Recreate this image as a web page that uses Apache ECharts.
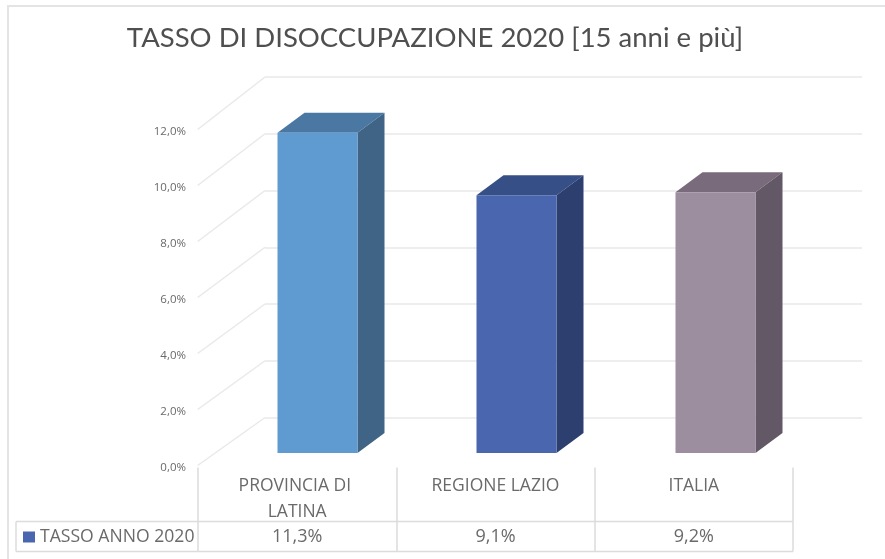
<!DOCTYPE html>
<html><head><meta charset="utf-8">
<style>html,body{margin:0;padding:0;background:#fff}#c{width:885px;height:559px}</style>
<script src="https://cdn.jsdelivr.net/npm/echarts@6/dist/echarts.min.js"></script>
</head><body><div id="c"></div>
<script>
var categories = ['PROVINCIA DI LATINA', 'REGIONE LAZIO', 'ITALIA'];
var values = [11.3, 9.1, 9.2];
var seriesName = 'TASSO ANNO 2020';
var titleText = 'TASSO DI DISOCCUPAZIONE 2020 [15 anni e più]';
var tickValues = [0, 2, 4, 6, 8, 10, 12];
var frontColors = ['#5f9bd1', '#4a66ae', '#9c8e9f'];
var topColors = ['#4a78a2', '#374f87', '#796b7b'];
var sideColors = ['#3f6485', '#2c3f6f', '#625866'];

function comma(v, d) { return v.toFixed(d).replace('.', ',') + '%'; }

var chart = echarts.init(document.getElementById('c'), null, { renderer: 'canvas' });
var DEPTH_X = 27, DEPTH_Y = 20, BAR_W = 80;
var TXT = '#6a6a6a', LINE = '#dcdcdc', GRID = '#e9e9e9';
var FONT = '"Open Sans", sans-serif';

var yCommon = { type: 'value', min: 0, max: 12, interval: 2 };

chart.setOption({
  animation: false,
  backgroundColor: '#fff',
  title: { text: titleText, left: 430, top: 19, textAlign: 'center',
    textStyle: { fontFamily: 'Lato, sans-serif', fontSize: 27.5, fontWeight: 'normal', color: '#4f4f4f' } },
  legend: { data: [{ name: seriesName, icon: 'rect' }], left: 18, top: 523, itemWidth: 12, itemHeight: 11, itemGap: 5,
    selectedMode: false,
    textStyle: { fontFamily: FONT, fontSize: 17.6, color: TXT, padding: [0, 0, 0, 0] } },
  grid: [
    { left: 198, width: 595, top: 131.5, height: 336 },   // front plane: axis labels + table
    { left: 218, width: 597, top: 113, height: 340 },     // bar plane
    { left: 265, width: 597, top: 77, height: 340.5 }     // back wall
  ],
  xAxis: [
    { gridIndex: 0, type: 'category', data: categories, position: 'bottom',
      axisLine: { show: false },
      axisTick: { show: true, length: 84, alignWithLabel: false, lineStyle: { color: LINE, width: 1.5 } },
      axisLabel: { show: true, margin: 6, interval: 0, width: 150, overflow: 'break', lineHeight: 26,
        verticalAlign: 'top', fontFamily: FONT, fontSize: 17.5, color: TXT } },
    { gridIndex: 0, type: 'category', data: values.map(function (v) { return comma(v, 1); }), position: 'bottom', offset: 60,
      axisLine: { show: false }, axisTick: { show: false },
      axisLabel: { show: true, margin: 0, interval: 0, fontFamily: FONT, fontSize: 18, color: TXT } },
    { gridIndex: 1, type: 'category', data: categories, show: false },
    { gridIndex: 2, type: 'category', data: categories, show: false }
  ],
  yAxis: [
    Object.assign({ gridIndex: 0, axisLine: { show: false }, axisTick: { show: false }, splitLine: { show: false },
      axisLabel: { show: true, margin: 12, fontFamily: FONT, fontSize: 11.5, color: TXT,
        formatter: function (v) { return comma(v, 1); } } }, yCommon),
    Object.assign({ gridIndex: 1, show: false }, yCommon),
    Object.assign({ gridIndex: 2, axisLine: { show: false }, axisTick: { show: false }, axisLabel: { show: false },
      splitLine: { show: true, lineStyle: { color: GRID, width: 1.5 } } }, yCommon)
  ],
  series: [
    { // side-wall diagonals joining the front scale to the back wall
      type: 'custom', xAxisIndex: 3, yAxisIndex: 2, silent: true, z: 1,
      data: tickValues.map(function (t) { return [0, t]; }),
      encode: { x: 0, y: 1 },
      renderItem: function (params, api) {
        var t = api.value(1);
        var half = api.size([1, 0])[0] / 2;
        var back = api.coord([0, t]);
        var front = chart.convertToPixel({ xAxisIndex: 0, yAxisIndex: 0 }, [0, t]);
        return { type: 'line', shape: { x1: front[0] - half, y1: front[1] - 2, x2: back[0] - half, y2: back[1] },
          style: { stroke: GRID, lineWidth: 1.5, fill: null } };
      }
    },
    { // table rules derived from the grid
      type: 'custom', xAxisIndex: 0, yAxisIndex: 0, silent: true, z: 1,
      data: [[2, 0]],
      encode: { x: 0, y: 1 },
      renderItem: function (params, api) {
        var right = api.coord([2, 0])[0] + api.size([1, 0])[0] / 2;
        var s = { stroke: LINE, lineWidth: 1.5, fill: null };
        return { type: 'group', children: [
          { type: 'line', shape: { x1: 16, y1: 521.5, x2: right, y2: 521.5 }, style: s },
          { type: 'line', shape: { x1: 16, y1: 551.5, x2: right, y2: 551.5 }, style: s },
          { type: 'line', shape: { x1: 16, y1: 521.5, x2: 16, y2: 551.5 }, style: s }
        ] };
      }
    },
    { name: seriesName, type: 'custom', xAxisIndex: 2, yAxisIndex: 1, z: 3,
      itemStyle: { color: frontColors[1] },
      data: values.map(function (v, i) { return [i, v]; }),
      encode: { x: 0, y: 1 },
      renderItem: function (params, api) {
        var i = api.value(0), top = api.coord([i, api.value(1)]), base = api.coord([i, 0]);
        var l = top[0] - BAR_W / 2, r = top[0] + BAR_W / 2, dx = DEPTH_X, dy = DEPTH_Y;
        return { type: 'group', children: [
          { type: 'polygon', shape: { points: [[l, top[1]], [l + dx, top[1] - dy], [r + dx, top[1] - dy], [r, top[1]]] },
            style: { fill: topColors[i] } },
          { type: 'polygon', shape: { points: [[r, top[1]], [r + dx, top[1] - dy], [r + dx, base[1] - dy], [r, base[1]]] },
            style: { fill: sideColors[i] } },
          { type: 'rect', shape: { x: l, y: top[1], width: BAR_W, height: base[1] - top[1] },
            style: { fill: frontColors[i] } }
        ] };
      }
    }
  ],
  graphic: [
    { type: 'rect', z: 0, silent: true, shape: { x: 8, y: 6, width: 900, height: 580 },
      style: { fill: null, stroke: '#e4e4e4', lineWidth: 2 } }
  ]
});
</script></body></html>
